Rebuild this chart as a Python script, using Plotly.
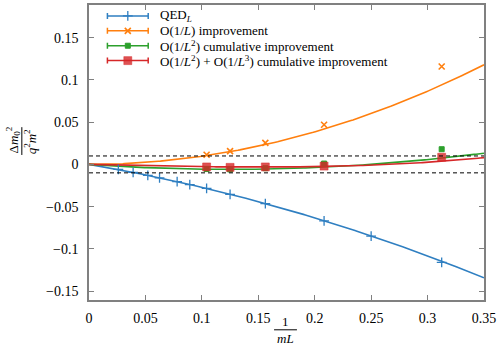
import plotly.graph_objects as go
import numpy as np

# ---------------- data ----------------
qed_x = [0.0260, 0.0391, 0.0521, 0.0625, 0.0781, 0.0893, 0.1042, 0.125, 0.15625, 0.2083, 0.25, 0.3125]
qed_y = [-0.006, -0.0095, -0.013, -0.016, -0.0205, -0.024, -0.0285, -0.0355, -0.0465, -0.067, -0.085, -0.116]

imp_x = [0.1042, 0.125, 0.15625, 0.2083, 0.3125]
o1_y = [0.0114, 0.0157, 0.0255, 0.047, 0.116]
o2_y = [-0.0055, -0.006, -0.0045, 0.001, 0.018]
o3_y = [-0.003, -0.0035, -0.003, -0.002, 0.0085]

# fit curve coefficients (estimated from the drawn curves)
qed_fit = {"c1": -0.2258, "c2": -0.4516, "c3": 0.0}
o1_fit = {"c1": 0.0, "c2": 0.963, "c3": 0.0}
o2_fit = {"c1": -0.095, "c2": 0.38, "c3": 0.0}
o3_fit = {"c1": -0.0311, "c2": 0.0, "c3": 0.4402}

band_levels = [-0.01, 0.01]
x_ticks = [0, 0.05, 0.1, 0.15, 0.2, 0.25, 0.3, 0.35]
y_ticks = [-0.15, -0.1, -0.05, 0, 0.05, 0.1, 0.15]

names = ["QED<sub><i>L</i></sub>",
         "O(1/<i>L</i>) improvement",
         "O(1/<i>L</i><sup>2</sup>) cumulative improvement",
         "O(1/<i>L</i><sup>2</sup>) + O(1/<i>L</i><sup>3</sup>) cumulative improvement"]

# ---------------- style ----------------
BLUE, ORANGE, GREEN, RED = "#2f7fc1", "#ff7f0e", "#2ca02c", "#d62728"
FONT = "Liberation Serif"
W, H = 499, 347
L_, R_, T_, B_ = 89, 13, 3, 47
PW, PH = W - L_ - R_, H - T_ - B_


def px(xp):
    return (xp - L_) / PW


def py(yp):
    return (H - B_ - yp) / PH


def curve(c, xs):
    xs = np.asarray(xs)
    return c["c1"] * xs + c["c2"] * xs ** 2 + c["c3"] * xs ** 3


xg = np.linspace(0, 0.35, 200)

fig = go.Figure()

styles = [
    (qed_x, qed_y, qed_fit, BLUE, dict(symbol="cross-thin-open", size=7, color=BLUE, line=dict(width=1.3, color=BLUE))),
    (imp_x, o1_y, o1_fit, ORANGE, dict(symbol="x-thin-open", size=6, color=ORANGE, line=dict(width=1.6, color=ORANGE))),
    (imp_x, o2_y, o2_fit, GREEN, dict(symbol="square", size=5, color=GREEN, line=dict(width=1, color=GREEN))),
    (imp_x, o3_y, o3_fit, RED, dict(symbol="square", size=8, color="rgba(214,39,40,0.8)",
                                    line=dict(width=1, color="rgba(214,39,40,0.45)"))),
]

for xs, ys, fit, col, mk in styles:
    fig.add_trace(go.Scatter(x=xg, y=curve(fit, xg), mode="lines",
                             line=dict(color=col, width=1.6), showlegend=False, hoverinfo="skip"))
for xs, ys, fit, col, mk in styles:
    fig.add_trace(go.Scatter(x=xs, y=ys, mode="markers", marker=mk, showlegend=False))

# dashed reference lines
for lv in band_levels:
    fig.add_shape(type="line", xref="x domain", yref="y", x0=0, x1=1, y0=lv, y1=lv,
                  line=dict(color="black", width=1, dash="4px,3px"))

# ---------------- manual legend (pixel coordinates on an overlay axis) ----------------
rows_y = [14, 29, 44, 59]
for i, (xs, ys, fit, col, mk) in enumerate(styles):
    fig.add_trace(go.Scatter(x=[128], y=[rows_y[i]], xaxis="x2", yaxis="y2", mode="markers",
                             marker=mk, showlegend=False, hoverinfo="skip",
                             error_x=dict(type="data", array=[20.5], symmetric=True, color=col,
                                          thickness=1.5, width=3)))
    fig.add_annotation(xref="x2", yref="y2", x=158, y=rows_y[i], text=names[i], showarrow=False,
                       xanchor="left", yanchor="middle", font=dict(family=FONT, size=13, color="black"))

# ---------------- axis labels as fractions ----------------
fig.add_annotation(xref="paper", yref="paper", x=px(286.5), y=py(322), text="1", showarrow=False,
                   xanchor="center", yanchor="middle", font=dict(family=FONT, size=13, color="black"))
fig.add_shape(type="line", xref="paper", yref="paper", x0=px(275), x1=px(298), y0=py(330), y1=py(330),
              line=dict(color="black", width=1))
fig.add_annotation(xref="paper", yref="paper", x=px(286.5), y=py(339), text="<i>mL</i>", showarrow=False,
                   xanchor="center", yanchor="middle", font=dict(family=FONT, size=13, color="black"))

fig.add_annotation(xref="paper", yref="paper", x=px(13), y=py(139), text="Δ<i>m</i><sub>0</sub><sup>2</sup>",
                   textangle=-90, showarrow=False, xanchor="center", yanchor="middle",
                   font=dict(family=FONT, size=13, color="black"))
fig.add_shape(type="line", xref="paper", yref="paper", x0=px(21.5), x1=px(21.5), y0=py(126), y1=py(154),
              line=dict(color="black", width=1))
fig.add_annotation(xref="paper", yref="paper", x=px(30), y=py(141), text="<i>q</i><sup>2</sup><i>m</i><sup>2</sup>",
                   textangle=-90, showarrow=False, xanchor="center", yanchor="middle",
                   font=dict(family=FONT, size=13, color="black"))

axis_common = dict(showline=True, linecolor="#808080", linewidth=1.5, mirror="ticks", ticks="inside",
                   ticklen=5, tickcolor="#808080", tickwidth=1, showgrid=False, zeroline=False,
                   tickfont=dict(family=FONT, size=14, color="black"))

fig.update_layout(
    width=W, height=H, margin=dict(l=L_, r=R_, t=T_, b=B_),
    paper_bgcolor="white", plot_bgcolor="white", showlegend=False,
    font=dict(family=FONT, size=13, color="black"),
    xaxis=dict(range=[0, 0.35], tickvals=x_ticks, ticklabelstandoff=4, **axis_common),
    yaxis=dict(range=[-0.1606, 0.1888], tickvals=y_ticks, ticklabelstandoff=6, **axis_common),
    xaxis2=dict(range=[L_, W - R_], overlaying="x", visible=False, fixedrange=True),
    yaxis2=dict(range=[H - B_, T_], overlaying="y", visible=False, fixedrange=True),
)

fig.write_html("out.html", config={"displayModeBar": False},
               post_script="document.body.style.margin='0';document.body.style.padding='0';document.body.style.overflow='hidden';")
